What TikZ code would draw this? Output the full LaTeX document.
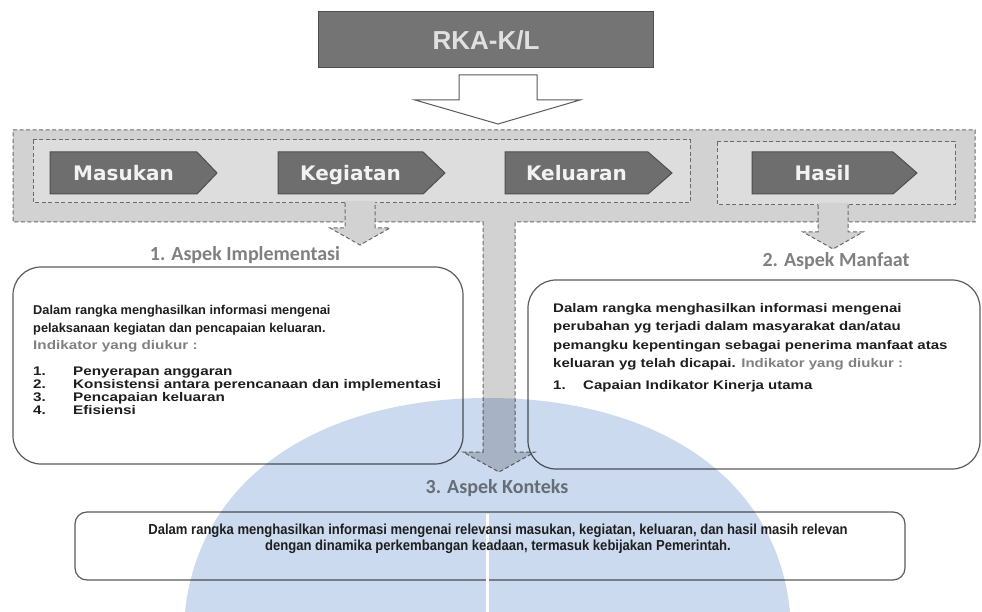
\documentclass[tikz,border=0pt]{standalone}
\usepackage{fontspec}
\setmainfont{Liberation Sans}
\newfontfamily\chevfont{DejaVu Sans}
\newfontfamily\headfont{Carlito}
\newfontfamily\narrowfont[FakeStretch=0.9]{Liberation Sans}
\newfontfamily\wideA[FakeStretch=1.22]{Liberation Sans}
\newfontfamily\wideB[FakeStretch=1.2]{Liberation Sans}
\definecolor{bandgray}{HTML}{D2D2D2}
\definecolor{innergray}{HTML}{DDDDDD}
\definecolor{chevgray}{HTML}{6E6E6E}
\definecolor{chevedge}{HTML}{4F4F4F}
\definecolor{dashgray}{HTML}{6A6A6A}
\definecolor{boxedge}{HTML}{5A5A5A}
\definecolor{headgray}{HTML}{808080}
\definecolor{txtdark}{HTML}{1E1E1E}
\definecolor{domeblue}{HTML}{CBDAEE}
\definecolor{rkafill}{HTML}{747474}
\tikzset{
  dashln/.style={draw=dashgray, line width=1pt, dash pattern=on 4pt off 2.5pt},
  rkabox/.style={fill=rkafill, draw=chevedge, line width=1pt, text=white!88!black,
    font=\bfseries\fontsize{26}{26}\selectfont, inner sep=0pt},
  hollow/.style={draw=boxedge, fill=white, line width=1pt, line join=miter},
  chevst/.style={fill=chevgray, draw=chevedge, line width=1pt},
  chevtxt/.style={anchor=base, text=white!95!black, font=\chevfont\bfseries\fontsize{20}{20}\selectfont, inner sep=0pt},
  headst/.style={text=headgray, font=\headfont\bfseries\fontsize{20}{20}\selectfont, inner sep=0pt},
  roundbox/.style={draw=boxedge, line width=1.2pt, rounded corners=28pt},
  txt/.style={anchor=mid west, inner sep=0pt, text=txtdark, font=\bfseries\fontsize{12.8}{14}\selectfont},
  txtwide/.style={txt, font=\wideA\bfseries\fontsize{12.5}{14}\selectfont},
  txtgray/.style={txtwide, text=headgray},
  txtright/.style={txt, font=\wideB\bfseries\fontsize{12.5}{14}\selectfont},
  btxt/.style={anchor=mid, inner sep=0pt, text=txtdark, font=\narrowfont\bfseries\fontsize{14.5}{15}\selectfont}
}
\newcommand\mychev[5]{%
  \draw[chevst] (#2,152) -- (#3,152) -- (#4,173) -- (#3,194) -- (#2,194) -- cycle;
  \node[chevtxt] (#1) at ({(#2+#3)/2},180.5) {#5};}
\begin{document}
\begin{tikzpicture}[x=1pt,y=-1pt]
\useasboundingbox (0,0) rectangle (982,612);
% top box and hollow arrow
\node[rkabox, minimum width=335pt, minimum height=56pt] (rka) at (486,40) {RKA-K/L};
\draw[hollow] (459,75) -- (537,75) -- (537,100) -- (580,100) -- (498,124) -- (415,100) -- (459,100) -- cycle;
% outer band with stem
\path[fill=bandgray] (13,130) -- (975,130) -- (975,222) -- (515,222) -- (515,452) -- (535,452) -- (499,472) -- (463,452) -- (483,452) -- (483,222) -- (13,222) -- cycle;
\draw[dashln] (13,130) -- (975,130) -- (975,222) -- (515,222) -- (515,452) -- (535,452) -- (499,472) -- (463,452) -- (483,452) -- (483,222) -- (13,222) -- cycle;
% inner boxes
\draw[dashln, fill=innergray] (33,140) rectangle (690,203);
\draw[dashln, fill=innergray] (717,142) rectangle (955,205);
% small arrows
\fill[bandgray] (345,201) -- (375,201) -- (375,228) -- (390,228) -- (360,245) -- (330,228) -- (345,228) -- cycle;
\draw[dashln] (345,203) -- (345,228) -- (330,228) -- (360,245) -- (390,228) -- (375,228) -- (375,203);
\fill[bandgray] (818,203) -- (848,203) -- (848,232) -- (863,232) -- (833,249) -- (803,232) -- (818,232) -- cycle;
\draw[dashln] (818,205) -- (818,232) -- (803,232) -- (833,249) -- (863,232) -- (848,232) -- (848,205);
% chevrons
\mychev{masukan}{50}{197}{217}{Masukan}
\mychev{kegiatan}{278}{423}{445}{Kegiatan}
\mychev{keluaran}{505}{648}{672}{Keluaran}
\mychev{hasil}{752}{893}{917}{Hasil}
% headings
\node[headst] (h1) at (245,255) {1. Aspek Implementasi};
\node[headst] (h2) at (836,261) {2. Aspek Manfaat};
\node[headst] (h3) at (497,488) {3. Aspek Konteks};
% boxes
\draw[roundbox] (13,267) rectangle (463,464);
\draw[roundbox] (528,280) rectangle (980,469);
\draw[roundbox, rounded corners=12pt] (75,512) rectangle (905,580);
% left box text
\node[txt] (l1) at (33,312) {Dalam rangka menghasilkan informasi mengenai};
\node[txt] (l2) at (33,330) {pelaksanaan kegiatan dan pencapaian keluaran.};
\node[txtgray] (l3) at (33,347) {Indikator yang diukur :};
\node[txtwide] (n1) at (33,373) {1.};
\node[txtwide] (i1) at (73,373) {Penyerapan anggaran};
\node[txtwide] (n2) at (33,386) {2.};
\node[txtwide] (i2) at (73,386) {Konsistensi antara perencanaan dan implementasi};
\node[txtwide] (n3) at (33,399) {3.};
\node[txtwide] (i3) at (73,399) {Pencapaian keluaran};
\node[txtwide] (n4) at (33,412) {4.};
\node[txtwide] (i4) at (73,412) {Efisiensi};
% right box text
\node[txtright] (r1) at (553,310) {Dalam rangka menghasilkan informasi mengenai};
\node[txtright] (r2) at (553,328) {perubahan yg terjadi dalam masyarakat dan/atau};
\node[txtright] (r3) at (553,347) {pemangku kepentingan sebagai penerima manfaat atas};
\node[txtright] (r4) at (553,365) {keluaran yg telah dicapai. \textcolor{headgray}{Indikator yang diukur :}};
\node[txtright] (rn1) at (553,387) {1.};
\node[txtright] (ri1) at (583,387) {Capaian Indikator Kinerja utama};
% watermark dome
\begin{scope}[blend mode=multiply]
\fill[domeblue] (185,612) .. controls (200,470) and (330,398) .. (488,398) .. controls (646,398) and (776,470) .. (790,612) -- cycle;
\end{scope}
\draw[white, line width=3pt] (487,514) -- (487,612);
% bottom box text
\node[btxt] (b1) at (498,532) {Dalam rangka menghasilkan informasi mengenai relevansi masukan, kegiatan, keluaran, dan hasil masih relevan};
\node[btxt] (b2) at (498,548) {dengan dinamika perkembangan keadaan, termasuk kebijakan Pemerintah.};
\end{tikzpicture}
\end{document}
